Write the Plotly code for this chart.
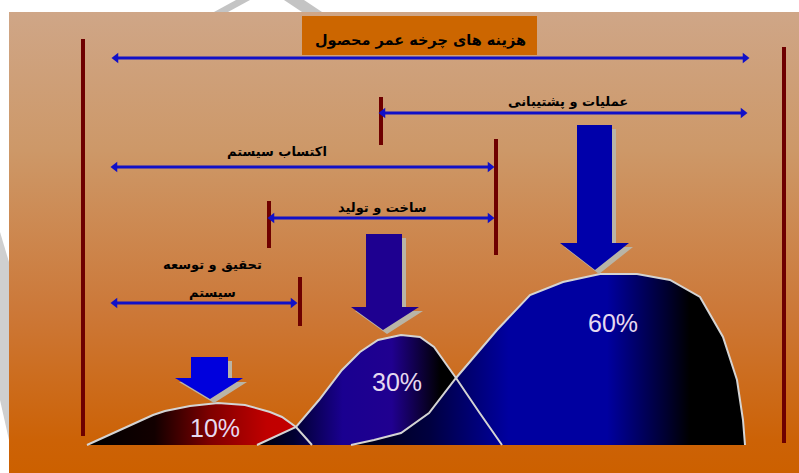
import plotly.graph_objects as go

W, H = 799, 473

# ---------------- data ----------------
title_text = "هزینه های چرخه عمر محصول"
phase_labels = ["عملیات و پشتیبانی", "اکتساب سیستم", "ساخت و تولید", "تحقیق و توسعه", "سیستم"]
phase_label_x = [568, 277, 382, 212, 212]
phase_label_y = [101, 151, 207, 264, 292]

share_labels = ["10%", "30%", "60%"]
share_x = [215, 397, 613]
share_y = [428, 382, 323]

curve10_x = [87, 153, 165, 190, 218, 245, 270, 282, 296, 312]
curve10_y = [445, 415, 411, 406, 403, 405, 412, 417, 427, 445]

curve30_x = [257, 296, 319, 342, 360, 378, 401, 420, 434, 456, 479, 502]
curve30_y = [445, 427, 400, 370, 352, 340, 335, 337, 347, 378, 412, 445]

curve60_x = [351, 374, 401, 429, 456, 480, 497, 530, 563, 600, 637, 670, 700, 723, 737, 743, 745]
curve60_y = [445, 440, 433, 413, 378, 350, 330, 295, 282, 274, 274, 280, 297, 337, 380, 420, 445]

span_x0 = [116, 383, 115, 272, 115]
span_x1 = [745, 743, 490, 490, 293]
span_y = [58, 113, 167, 218, 303]

tick_x = [83, 784, 381, 496, 269, 300]
tick_y0 = [39, 47, 97, 139, 201, 277]
tick_y1 = [436, 443, 145, 255, 248, 326]

arrow_tip_x = [210, 383, 595]
arrow_tip_y = [399, 330, 270]
arrow_top_y = [357, 234, 125]
arrow_base_y = [378, 307, 243]
arrow_shaft_l = [191, 366, 577]
arrow_shaft_r = [228, 402, 612]
arrow_head_l = [175, 351, 560]
arrow_head_r = [243, 419, 629]
arrow_colors = ["#0000DD", "#1E0090", "#0000AA"]

panel_x = [9, 799]
panel_y = [12, 473]
titlebox_x = [302, 537]
titlebox_y = [16, 55]

# faint watermark strokes (visible in the white margin)
wm_top1_x = [214, 236, 250, 228]
wm_top1_y = [12, 0, 0, 12]
wm_top2_x = [284, 304, 322, 302]
wm_top2_y = [0, 0, 12, 12]
wm_left_x = [0, 9, 9, 0]
wm_left_y = [232, 262, 440, 400]

# ---------------- figure ----------------
fig = go.Figure()

def poly(xs, ys, **kw):
    fig.add_trace(go.Scatter(x=list(xs) + [xs[0]], y=list(ys) + [ys[0]], mode="lines",
                             line=dict(width=0), fill="toself", hoverinfo="skip",
                             showlegend=False, **kw))

# watermark pieces
poly(wm_top1_x, wm_top1_y, fillcolor="#C4C4C4")
poly(wm_top2_x, wm_top2_y, fillcolor="#C4C4C4")
poly(wm_left_x, wm_left_y, fillcolor="#CFCFCF")

# background panel with vertical gradient
poly([panel_x[0], panel_x[1], panel_x[1], panel_x[0]],
     [panel_y[0], panel_y[0], panel_y[1], panel_y[1]],
     fillgradient=dict(type="vertical", start=panel_y[0], stop=panel_y[1],
                       colorscale=[[0, "#CFA687"], [0.3, "#CD9868"], [0.65, "#CC7838"],
                                   [0.93, "#CC6206"], [1, "#CC6000"]]))

# title box
poly([titlebox_x[0], titlebox_x[1], titlebox_x[1], titlebox_x[0]],
     [titlebox_y[0], titlebox_y[0], titlebox_y[1], titlebox_y[1]], fillcolor="#CC6600")

# vertical dark red ticks
for x, y0, y1 in zip(tick_x, tick_y0, tick_y1):
    fig.add_trace(go.Scatter(x=[x, x], y=[y0, y1], mode="lines",
                             line=dict(color="#6E0000", width=4),
                             hoverinfo="skip", showlegend=False))

# horizontal double-headed spans
for x0, x1, y in zip(span_x0, span_x1, span_y):
    fig.add_trace(go.Scatter(x=[x0, x1], y=[y, y], mode="lines+markers",
                             line=dict(color="#1010C8", width=3),
                             marker=dict(symbol=["triangle-left", "triangle-right"], size=9,
                                         color="#1010C8", line=dict(width=0)),
                             hoverinfo="skip", showlegend=False))

# filled curves
poly(curve10_x, curve10_y,
     fillgradient=dict(type="horizontal",
                       colorscale=[[0, "#000000"], [0.3, "#120000"], [0.55, "#800000"],
                                   [0.8, "#C00000"], [1, "#C40000"]]))
poly(curve30_x, curve30_y,
     fillgradient=dict(type="horizontal",
                       colorscale=[[0, "#000008"], [0.15, "#000030"], [0.35, "#1A0090"],
                                   [0.55, "#200090"], [0.75, "#000000"], [1, "#000000"]]))
poly(curve60_x, curve60_y,
     fillgradient=dict(type="horizontal",
                       colorscale=[[0, "#000010"], [0.2, "#000040"], [0.4, "#0000A0"],
                                   [0.65, "#0000A0"], [0.8, "#000030"], [0.86, "#000000"],
                                   [1, "#000000"]]))

# curve outlines
for xs, ys in [(curve10_x, curve10_y), (curve30_x, curve30_y), (curve60_x, curve60_y)]:
    fig.add_trace(go.Scatter(x=xs, y=ys, mode="lines",
                             line=dict(color="#D4D4D4", width=2),
                             hoverinfo="skip", showlegend=False))

# block arrows (shadow then body)
for i in range(3):
    px = [arrow_shaft_l[i], arrow_shaft_r[i], arrow_shaft_r[i], arrow_head_r[i],
          arrow_tip_x[i], arrow_head_l[i], arrow_shaft_l[i]]
    py = [arrow_top_y[i], arrow_top_y[i], arrow_base_y[i], arrow_base_y[i],
          arrow_tip_y[i], arrow_base_y[i], arrow_base_y[i]]
    poly([v + 4 for v in px], [v + 4 for v in py], fillcolor="#B9B4A6")
    poly(px, py, fillcolor=arrow_colors[i])

annotations = [dict(x=420, y=40, xref="x", yref="y", text="<b>" + title_text + "</b>",
                    showarrow=False, font=dict(family="DejaVu Sans", size=14.5, color="black"))]
for t, x, y in zip(phase_labels, phase_label_x, phase_label_y):
    annotations.append(dict(x=x, y=y, xref="x", yref="y", text="<b>" + t + "</b>",
                            showarrow=False, font=dict(family="DejaVu Sans", size=13, color="black")))
for t, x, y in zip(share_labels, share_x, share_y):
    annotations.append(dict(x=x, y=y, xref="x", yref="y", text=t, showarrow=False,
                            font=dict(family="Liberation Sans", size=25, color="#E6DAF0")))

fig.update_layout(
    width=W, height=H, margin=dict(l=0, r=0, t=0, b=0),
    paper_bgcolor="white", plot_bgcolor="white",
    xaxis=dict(range=[0, W], visible=False, fixedrange=True),
    yaxis=dict(range=[H, 0], visible=False, fixedrange=True),
    annotations=annotations, showlegend=False,
)

fig.write_html("out.html")
